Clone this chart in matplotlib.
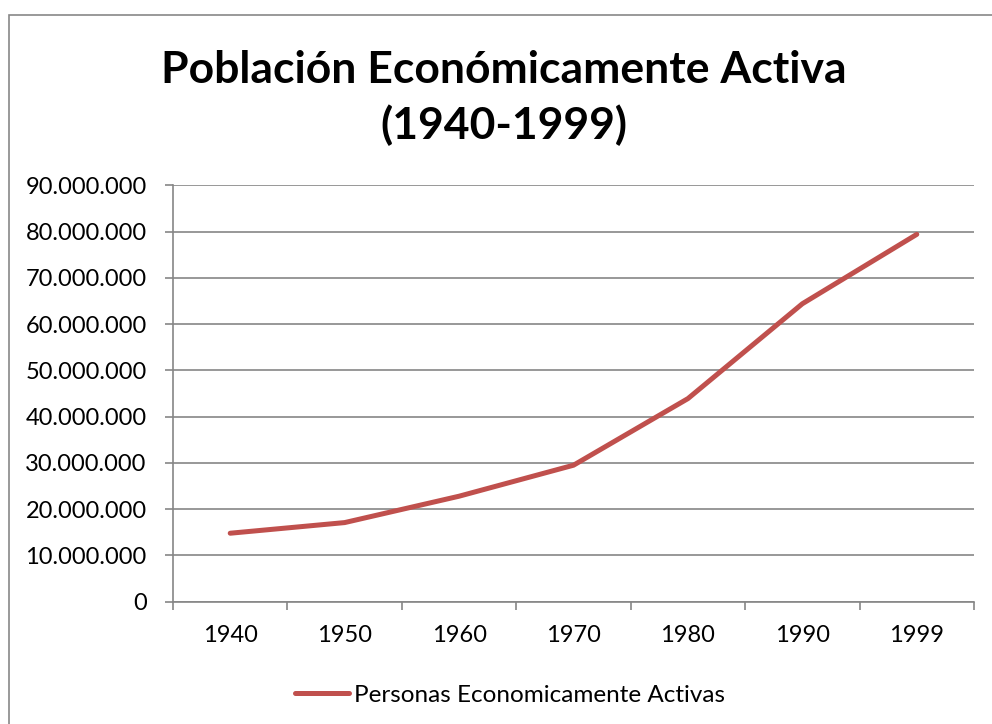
import matplotlib
matplotlib.use("Agg")
import matplotlib.pyplot as plt
from matplotlib.patches import Rectangle
from matplotlib.ticker import FuncFormatter, MultipleLocator, FixedLocator

# datos
anios = ["1940", "1950", "1960", "1970", "1980", "1990", "1999"]
pea = [14800000, 17100000, 22800000, 29500000, 43900000, 64400000, 79400000]
serie = "Personas Economicamente Activas"
titulo = "Población Económicamente Activa\n(1940-1999)"

plt.rcParams['font.family'] = ['Lato', 'DejaVu Sans']

W, H = 992, 724
fig = plt.figure(figsize=(W / 100, H / 100), dpi=100)

# borde del área del gráfico (estilo Excel), solo se ven el lado izquierdo y el de arriba
fig.patches.append(Rectangle((9 / W, -1), 2, 2 - 15 / H, transform=fig.transFigure,
                             fill=False, edgecolor='#878787', linewidth=1.2))

ax = fig.add_axes([173 / W, 1 - 601.7 / H, (974 - 173) / W, (601.7 - 185.3) / H])

x = list(range(len(anios)))
ax.plot(x, pea, color='#C0504D', linewidth=3.6, solid_capstyle='round', label=serie)

ax.set_xlim(-0.5, len(anios) - 0.5)
ax.set_ylim(0, 90000000)
ax.yaxis.set_major_locator(MultipleLocator(10000000))
ax.yaxis.set_major_formatter(FuncFormatter(lambda v, p: f"{int(v):,}".replace(",", ".")))

ax.set_xticks(x)
ax.set_xticklabels(anios)
ax.xaxis.set_minor_locator(FixedLocator([i - 0.5 for i in range(len(anios) + 1)]))

ax.grid(True, axis='y', color='#868686', linewidth=1.2)
ax.set_axisbelow(True)
for s in ['top', 'right']:
    ax.spines[s].set_visible(False)
for s in ['left', 'bottom']:
    ax.spines[s].set_color('#868686')
    ax.spines[s].set_linewidth(1.2)

ax.tick_params(axis='y', length=6, width=1.2, color='#868686', labelsize=17, pad=13)
ax.tick_params(axis='x', which='major', length=0, labelsize=17, pad=17)
ax.tick_params(axis='x', which='minor', length=6, width=1.2, color='#868686')

fig.text(0.508, 1 - 98 / H, titulo, ha='center', va='center', fontsize=32,
         fontweight='bold', linespacing=1.4)

fig.legend(loc='center', bbox_to_anchor=(510 / W, 1 - 695 / H), frameon=False, fontsize=17.5,
           handlelength=2.2, handletextpad=0.2)

fig.savefig("out.png", dpi=100)
